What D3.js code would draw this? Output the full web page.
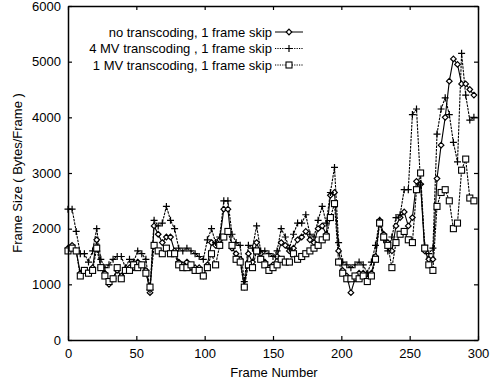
<!DOCTYPE html>
<html>
<head>
<meta charset="utf-8">
<script src="https://cdn.jsdelivr.net/npm/d3@7/dist/d3.min.js"></script>
<style>
  html, body { margin: 0; padding: 0; background: #fff; }
  svg { display: block; }
  text { font-family: "Liberation Sans", Arial, Helvetica, sans-serif; fill: #000; }
</style>
</head>
<body>
<svg id="chart" width="502" height="387"></svg>
<script>
// Frame numbers of the encoded frames (one frame skipped between samples)
const frames = d3.range(0, 300, 3);

// Frame sizes in bytes per frame
const noTranscoding = [
  1650, 1700, 1600, 1200, 1250, 1200, 1300, 1800, 1300, 1200,
  1000, 1100, 1250, 1150, 1250, 1300, 1300, 1400, 1350, 1250,
  850, 2050, 1900, 1750, 1850, 1850, 1600, 1400, 1350, 1400,
  1300, 1300, 1300, 1150, 1350, 1750, 1700, 1800, 2350, 2350,
  1650, 1550, 1450, 950, 1550, 1400, 1750, 1550, 1400, 1300,
  1350, 1500, 1750, 1700, 1600, 1650, 1800, 1850, 1950, 1800,
  1750, 2000, 2050, 1900, 2600, 2650, 1600, 1250, 1150, 850,
  1100, 1200, 1200, 1100, 1200, 1500, 2150, 1900, 1750, 1600,
  2050, 2200, 2300, 2050, 2200, 2850, 2800, 1600, 1450, 1450,
  2900, 3500, 4000, 4650, 5050, 4950, 4600, 4600, 4500, 4400
];
const mv4Transcoding = [
  2350, 2350, 1950, 1550, 1550, 1400, 1600, 2000, 1450, 1300,
  1350, 1450, 1500, 1500, 1300, 1450, 1400, 1600, 1550, 1450,
  900, 2150, 2050, 2100, 2400, 2150, 2000, 1650, 1600, 1650,
  1600, 1550, 1500, 1450, 1800, 2000, 1750, 1850, 2500, 2500,
  1900, 1750, 1700, 1050, 1700, 1650, 2050, 1600, 1600, 1550,
  1500, 1600, 2000, 1850, 1650, 1900, 2100, 2100, 2250, 1900,
  1850, 2150, 2400, 2100, 2650, 3100, 1750, 1400, 1350, 1300,
  1350, 1400, 1350, 1200, 1400, 1700, 2150, 1800, 1600, 1850,
  2200, 2250, 2700, 2700, 4050, 4150, 2800, 1700, 1550, 1650,
  3700, 4150, 4350, 4050, 3550, 3200, 5150, 4400, 3950, 4000
];
const mv1Transcoding = [
  1600, 1650, 1600, 1150, 1250, 1200, 1250, 1650, 1300, 1150,
  1050, 1100, 1300, 1100, 1250, 1250, 1350, 1300, 1350, 1200,
  950, 1700, 1600, 1550, 1650, 1550, 1550, 1350, 1300, 1300,
  1350, 1250, 1250, 1150, 1300, 1550, 1350, 1700, 1850, 1950,
  1700, 1450, 1400, 950, 1350, 1300, 1600, 1450, 1350, 1250,
  1300, 1350, 1450, 1400, 1400, 1550, 1450, 1500, 1550, 1600,
  1650, 1700, 1800, 1850, 2200, 2450, 1400, 1200, 1100, 1100,
  1150, 1100, 1150, 1050, 1150, 1450, 2100, 1850, 1700, 1300,
  1750, 1900, 1950, 1800, 1750, 2700, 3000, 1650, 1350, 1250,
  2400, 2650, 2700, 2500, 2000, 2100, 3050, 3250, 2550, 2500
];

// Axis tick values
const xTicks = [0, 50, 100, 150, 200, 250, 300];
const yTicks = [0, 1000, 2000, 3000, 4000, 5000, 6000];

const legendLabels = [
  "no transcoding, 1 frame skip",
  "4 MV transcoding , 1 frame skip",
  "1 MV transcoding, 1 frame skip"
];

const margin = { left: 68, top: 6, right: 24, bottom: 47 };
const width = 502, height = 387;
const plotW = width - margin.left - margin.right;
const plotH = height - margin.top - margin.bottom;

const svg = d3.select("#chart");
const g = svg.append("g").attr("transform", `translate(${margin.left},${margin.top})`);

const x = d3.scaleLinear().domain([0, 300]).range([0, plotW]);
const y = d3.scaleLinear().domain([0, 6000]).range([plotH, 0]);

// Series definitions: values, marker shape and line dash
const series = [
  { label: legendLabels[0], values: noTranscoding, marker: "diamond", dash: null },
  { label: legendLabels[1], values: mv4Transcoding, marker: "plus", dash: "2.5,1" },
  { label: legendLabels[2], values: mv1Transcoding, marker: "square", dash: "2.5,1" }
];

function drawMarker(sel, type, cx, cy) {
  if (type === "diamond") {
    sel.append("path")
      .attr("d", `M${cx},${cy - 2.8}L${cx + 2.8},${cy}L${cx},${cy + 2.8}L${cx - 2.8},${cy}Z`)
      .attr("fill", "#fff").attr("stroke", "#000").attr("stroke-width", 1.2);
  } else if (type === "plus") {
    sel.append("path")
      .attr("d", `M${cx - 3.5},${cy}H${cx + 3.5}M${cx},${cy - 3.5}V${cy + 3.5}`)
      .attr("stroke", "#000").attr("stroke-width", 1.2);
  } else {
    sel.append("rect")
      .attr("x", cx - 3).attr("y", cy - 3).attr("width", 6).attr("height", 6)
      .attr("fill", "#fff").attr("stroke", "#000").attr("stroke-width", 1.1);
  }
}

const line = d3.line().x(d => x(d[0])).y(d => y(d[1]));

// Lines first, then markers on top
series.forEach(s => {
  const pts = frames.map((f, i) => [f, s.values[i]]);
  g.append("path")
    .datum(pts)
    .attr("d", line)
    .attr("fill", "none")
    .attr("stroke", "#000")
    .attr("stroke-width", 1.1)
    .attr("stroke-dasharray", s.dash);
});
series.forEach(s => {
  const mg = g.append("g");
  frames.forEach((f, i) => drawMarker(mg, s.marker, x(f), y(s.values[i])));
});

// Frame with inward ticks on all four sides
const tickLen = 4;
const fmt = d3.format("d");
const xAxisB = d3.axisBottom(x).tickValues(xTicks).tickFormat(fmt).tickSizeInner(-tickLen).tickSizeOuter(0).tickPadding(9);
const xAxisT = d3.axisTop(x).tickValues(xTicks).tickSizeInner(-tickLen).tickSizeOuter(0).tickFormat("");
const yAxisL = d3.axisLeft(y).tickValues(yTicks).tickFormat(fmt).tickSizeInner(-tickLen).tickSizeOuter(0).tickPadding(7);
const yAxisR = d3.axisRight(y).tickValues(yTicks).tickSizeInner(-tickLen).tickSizeOuter(0).tickFormat("");

function styleAxis(a) {
  a.select(".domain").attr("stroke", "#000").attr("stroke-width", 1.5);
  a.selectAll(".tick line").attr("stroke", "#000").attr("stroke-width", 1.2);
  a.selectAll(".tick text").style("font-family", "'Liberation Sans', Arial, sans-serif")
    .style("font-size", "13px").attr("fill", "#000");
}
styleAxis(g.append("g").attr("transform", `translate(0,${plotH})`).call(xAxisB));
styleAxis(g.append("g").call(xAxisT));
styleAxis(g.append("g").call(yAxisL));
styleAxis(g.append("g").attr("transform", `translate(${plotW},0)`).call(yAxisR));

// Axis titles
svg.append("text")
  .attr("x", 274).attr("y", 377)
  .attr("text-anchor", "middle").style("font-size", "13px")
  .text("Frame Number");
svg.append("text")
  .attr("transform", `translate(22,${margin.top + plotH / 2}) rotate(-90)`)
  .attr("text-anchor", "middle").style("font-size", "13px")
  .text("Frame Size ( Bytes/Frame )");

// Legend
const legend = svg.append("g");
series.forEach((s, i) => {
  const ly = 32 + i * 16.5;
  legend.append("text")
    .attr("x", 272).attr("y", ly + 4.5)
    .attr("text-anchor", "end").style("font-size", "13px")
    .text(s.label);
  legend.append("line")
    .attr("x1", 275).attr("x2", 303).attr("y1", ly).attr("y2", ly)
    .attr("stroke", "#000").attr("stroke-width", 1)
    .attr("stroke-dasharray", s.dash ? "1.2,1.2" : null);
  drawMarker(legend, s.marker, 289, ly);
});
</script>
</body>
</html>
